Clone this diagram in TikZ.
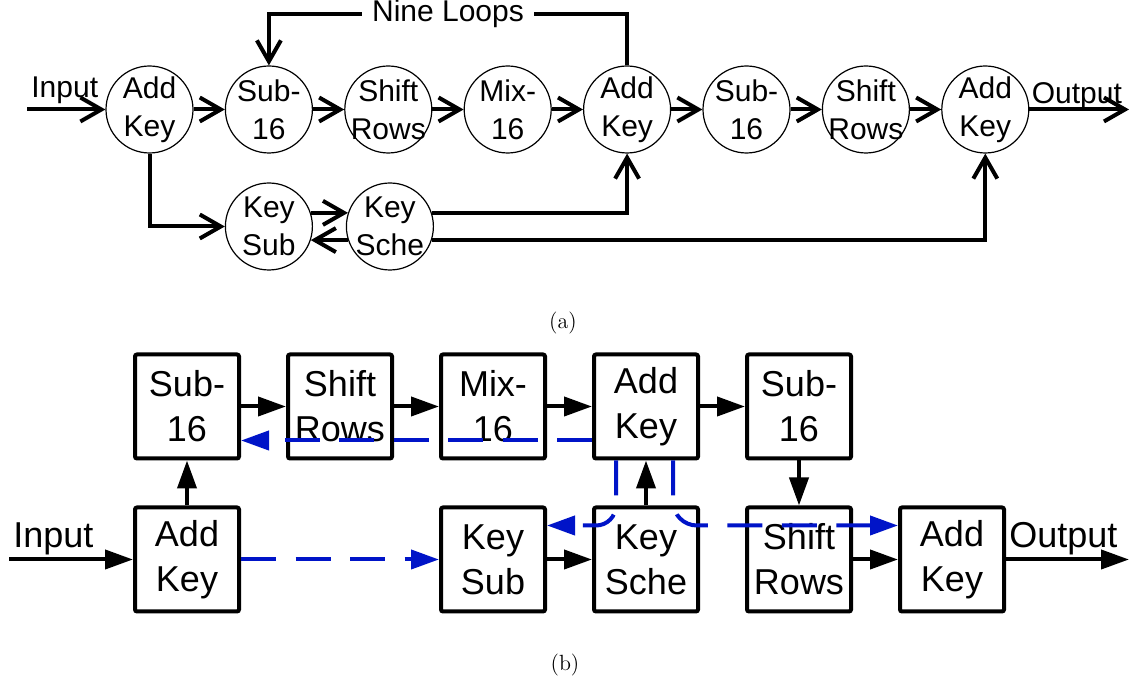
\documentclass[tikz,border=0pt]{standalone}
\usepackage{fontspec}
\newfontfamily\helv{Liberation Sans}
\usetikzlibrary{arrows.meta,positioning}
\definecolor{pathblue}{RGB}{0,20,200}

\begin{document}
\begin{tikzpicture}[x=0.5pt, y=0.5pt, node distance=15.6pt,
 circ/.style={circle,draw,line width=0.6pt,minimum size=43.5pt,inner sep=-2.5pt,align=center,font=\helv\fontsize{15}{19}\selectfont},
 blk/.style={draw,line width=2pt,rounded corners=1pt,minimum size=52pt,inner sep=2pt,align=center,font=\helv\fontsize{18}{22.5}\selectfont},
 lbl/.style={inner sep=0pt,font=\helv\fontsize{15}{18}\selectfont},
 lblb/.style={inner sep=0pt,font=\helv\fontsize{18}{22}\selectfont},
 arr/.style={line width=2pt,-{Straight Barb[length=10.5pt,width=12pt]}},
 tri/.style={line width=2pt,-{Triangle[length=14pt,width=9.5pt]}},
 keyp/.style={tri,pathblue,dash pattern=on 17.5pt off 9.75pt},
 captxt/.style={font=\fontsize{11}{13}\selectfont}]
\useasboundingbox (0,0) rectangle (1132,-683);

% (a) round flow with circles
\node[circ] (A1) at (149.5,-109.5) {Add\\Key};
\node[circ,right=of A1] (S1) {Sub-\\16};
\node[circ,right=of S1] (R1) {Shift\\Rows};
\node[circ,right=of R1] (M1) {Mix-\\16};
\node[circ,right=of M1] (A2) {Add\\Key};
\node[circ,right=of A2] (S2) {Sub-\\16};
\node[circ,right=of S2] (R2) {Shift\\Rows};
\node[circ,right=of R2] (A3) {Add\\Key};
\node[circ,below=14.4pt of S1] (KS) {Key\\Sub};
\node[circ,right=16.4pt of KS] (KC) {Key\\Sche};
\coordinate (inA) at (27,-109.5);
\coordinate (outA) at (1129,-109.5);
\coordinate (topA) at (0,-14);
\draw[arr] (inA) -- (A1);
\node[lbl,anchor=base west] (inAl) at ([shift={(2pt,6pt)}]inA) {Input};
\foreach \a/\b in {A1/S1,S1/R1,R1/M1,M1/A2,A2/S2,S2/R2,R2/A3}
  \draw[arr] (\a) -- (\b);
\draw[arr] (A3) -- (outA);
\node[lbl,anchor=base west] (outAl) at ([shift={(1pt,3pt)}]A3.east) {Output};
\draw[arr] (A2.north) -- (A2.north |- topA) -- node[lbl,fill=white,inner xsep=5pt] (loop) {Nine Loops} (S1.north |- topA) -- (S1.north);
\draw[arr] (A1.south) |- (KS.west);
\draw[arr] (KS.18) -- (KC.162);
\draw[arr] (KC.198) -- (KS.-18);
\draw[arr] (KC.18) -| (A2.south);
\draw[arr] (KC.-18) -| (A3.south);
\node[captxt] (capA) at (563,-323) {(a)};

% (b) blocks with key path
\begin{scope}[node distance=22.5pt]
\node[blk] (bS1) at (187,-406.5) {Sub-\\16};
\node[blk,right=of bS1] (bR1) {Shift\\Rows};
\node[blk,right=of bR1] (bM1) {Mix-\\16};
\node[blk,right=of bM1] (bA2) {Add\\Key};
\node[blk,right=of bA2] (bS2) {Sub-\\16};
\node[blk,below=of bS1] (bA1) {Add\\Key};
\node[blk,below=of bM1] (bKS) {Key\\Sub};
\node[blk,below=of bA2] (bKC) {Key\\Sche};
\node[blk,below=of bS2] (bR2) {Shift\\Rows};
\node[blk,right=of bR2] (bA3) {Add\\Key};
\end{scope}
\coordinate (inB) at (9,-559.5);
\coordinate (outB) at (1129,-559.5);
\draw[tri] (inB) -- (bA1);
\node[lblb,anchor=base west] (inBl) at ([shift={(2pt,6pt)}]inB) {Input};
\draw[tri] (bA1) -- (bS1);
\foreach \a/\b in {bS1/bR1,bR1/bM1,bM1/bA2,bA2/bS2,bS2/bR2,bR2/bA3,bKS/bKC,bKC/bA2}
  \draw[tri] (\a) -- (\b);
\draw[tri] (bA3) -- (outB);
\node[lblb,anchor=base west] (outBl) at ([shift={(1.5pt,6pt)}]bA3.east) {Output};
\draw[keyp] (bA1) -- (bKS);
\draw[keyp] ([yshift=-17pt]bA2.west) -- ([yshift=-17pt]bS1.east);
\draw[keyp,rounded corners=10pt] ([xshift=-15pt]bA2.south) |- ([yshift=17pt]bKS.east);
\draw[keyp,rounded corners=12pt] ([xshift=13.5pt]bA2.south) |- ([yshift=17pt]bA3.west);
\node[captxt] (capB) at (565,-665) {(b)};
\end{tikzpicture}
\end{document}
